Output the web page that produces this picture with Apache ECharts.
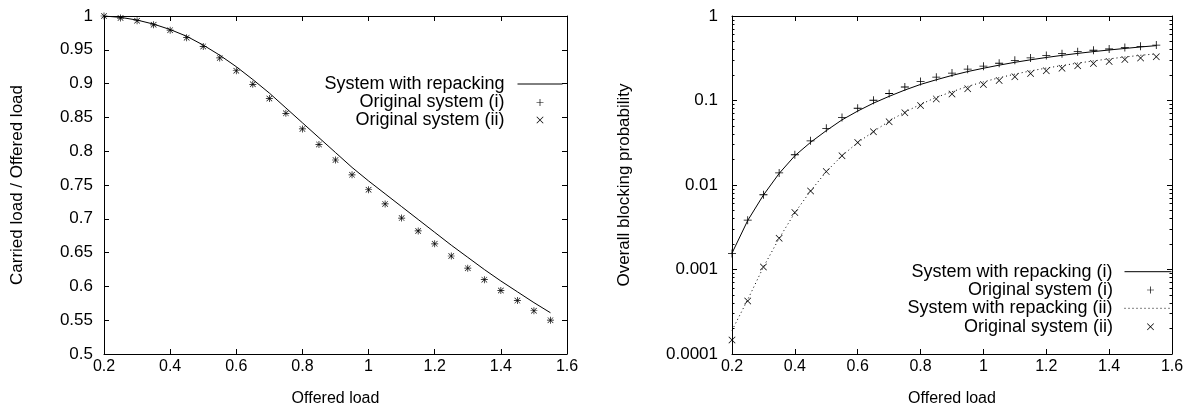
<!DOCTYPE html>
<html>
<head>
<meta charset="utf-8">
<script src="https://cdn.jsdelivr.net/npm/echarts@6/dist/echarts.min.js"></script>
<style>
html,body{margin:0;padding:0;background:#fff;}
#c{width:1191px;height:412px;}
</style>
</head>
<body>
<div id="c"></div>
<script>
// ---- data ----
const offeredLoad = [0.2,0.25,0.3,0.35,0.4,0.45,0.5,0.55,0.6,0.65,0.7,0.75,0.8,0.85,0.9,0.95,1.0,1.05,1.1,1.15,1.2,1.25,1.3,1.35,1.4,1.45,1.5,1.55];

// Left: Carried load / Offered load
const leftRepacking = [1.0,0.998,0.994,0.988,0.980,0.970,0.957,0.942,0.925,0.906,0.886,0.864,0.842,0.820,0.798,0.776,0.756,0.737,0.718,0.699,0.680,0.661,0.643,0.625,0.608,0.592,0.576,0.561];
const leftOriginalI = [1.0,0.997,0.993,0.987,0.979,0.968,0.955,0.938,0.919,0.899,0.878,0.856,0.833,0.810,0.787,0.765,0.743,0.722,0.701,0.682,0.663,0.645,0.627,0.610,0.594,0.579,0.564,0.550];
const leftOriginalII = [1.0,0.997,0.993,0.987,0.979,0.968,0.955,0.938,0.919,0.899,0.878,0.856,0.833,0.810,0.787,0.765,0.743,0.722,0.701,0.682,0.663,0.645,0.627,0.610,0.594,0.579,0.564,0.550];

// Right: Overall blocking probability
const rightRepackingI = [0.00156,0.0038,0.0076,0.0137,0.0222,0.032,0.044,0.059,0.075,0.093,0.112,0.133,0.155,0.176,0.198,0.220,0.241,0.262,0.283,0.303,0.323,0.342,0.361,0.379,0.396,0.413,0.430,0.446];
const rightOriginalI = [0.00155,0.00383,0.00767,0.0139,0.0228,0.0333,0.0469,0.063,0.081,0.1007,0.121,0.1445,0.168,0.189,0.211,0.235,0.255,0.276,0.299,0.319,0.340,0.358,0.378,0.393,0.407,0.425,0.438,0.453];
const rightRepackingII = [0.00019,0.00044,0.00107,0.00234,0.0047,0.0085,0.0144,0.0222,0.0318,0.0428,0.057,0.073,0.090,0.109,0.127,0.147,0.166,0.186,0.205,0.224,0.242,0.259,0.277,0.294,0.311,0.327,0.343,0.356];
const rightOriginalII = [0.000146,0.000423,0.00107,0.00234,0.00472,0.00848,0.0144,0.0222,0.0318,0.0428,0.0561,0.0716,0.0872,0.1045,0.1197,0.138,0.155,0.173,0.191,0.209,0.225,0.241,0.257,0.274,0.289,0.305,0.319,0.330];

// tick values
const logMajorTicks = [0.0001,0.001,0.01,0.1,1];
const logMajorLabels = ['0.0001','0.001','0.01','0.1','1'];
const logMinorTicks = [0.0002,0.0003,0.0004,0.0005,0.0006,0.0007,0.0008,0.0009,
  0.002,0.003,0.004,0.005,0.006,0.007,0.008,0.009,
  0.02,0.03,0.04,0.05,0.06,0.07,0.08,0.09,
  0.2,0.3,0.4,0.5,0.6,0.7,0.8,0.9];

const names = {
  repack: 'System with repacking',
  origI: 'Original system (i)',
  origII: 'Original system (ii)',
  repackI: 'System with repacking (i)',
  repackII: 'System with repacking (ii)'
};

// ---- chart ----
const FONT = '"Liberation Sans", Arial, Helvetica, sans-serif';
const PLUS = 'path://M0,4.5H10V5.5H0Z M4.5,0H5.5V10H4.5Z';
const CROSS = 'path://M0,0.7L0.7,0L10,9.3L9.3,10Z M9.3,0L10,0.7L0.7,10L0,9.3Z';
const pair = (ys) => offeredLoad.map((x, i) => [x, ys[i]]);

const chart = echarts.init(document.getElementById('c'), null, {renderer: 'canvas'});

const xLbl = {color: '#000', fontSize: 16, fontFamily: FONT};
const yLbl = {color: '#000', fontSize: 17, fontFamily: FONT};

function xAxisPair(grid) {
  return [
    {type: 'value', gridIndex: grid, position: 'bottom', min: 0.2, max: 1.6, interval: 0.2,
      name: 'Offered load', nameLocation: 'middle', nameGap: 37,
      nameTextStyle: {color: '#000', fontSize: 16, fontFamily: FONT},
      axisLine: {show: true, onZero: false, lineStyle: {color: '#000', width: 1}},
      axisTick: {show: true, inside: true, length: 5, lineStyle: {color: '#000'}},
      axisLabel: Object.assign({margin: 5, formatter: v => String(Math.round(v * 10) / 10)}, xLbl),
      splitLine: {show: false}},
    {type: 'value', gridIndex: grid, position: 'top', min: 0.2, max: 1.6, interval: 0.2,
      axisLine: {show: true, onZero: false, lineStyle: {color: '#000', width: 1}},
      axisTick: {show: true, inside: true, length: 5, lineStyle: {color: '#000'}},
      axisLabel: {show: false}, splitLine: {show: false}}
  ];
}

const option = {
  animation: false,
  backgroundColor: '#fff',
  grid: [
    {left: 104, top: 16, width: 463, height: 341, containLabel: false},
    {left: 732, top: 16, width: 440, height: 341, containLabel: false}
  ],
  xAxis: [].concat(xAxisPair(0), xAxisPair(1)),
  yAxis: [
    {type: 'value', gridIndex: 0, position: 'left', min: 0.5, max: 1, interval: 0.05,
      name: 'Carried load / Offered load', nameLocation: 'middle', nameGap: 78,
      nameTextStyle: {color: '#000', fontSize: 17, fontFamily: FONT},
      axisLine: {show: true, onZero: false, lineStyle: {color: '#000'}},
      axisTick: {show: true, inside: true, length: 5, lineStyle: {color: '#000'}},
      axisLabel: Object.assign({margin: 11, formatter: v => String(Math.round(v * 100) / 100)}, yLbl),
      splitLine: {show: false}},
    {type: 'value', gridIndex: 0, position: 'right', min: 0.5, max: 1, interval: 0.05,
      axisLine: {show: true, onZero: false, lineStyle: {color: '#000'}},
      axisTick: {show: true, inside: true, length: 5, lineStyle: {color: '#000'}},
      axisLabel: {show: false}, splitLine: {show: false}},
    {type: 'log', logBase: 10, gridIndex: 1, position: 'left', min: 0.0001, max: 1,
      name: 'Overall blocking probability', nameLocation: 'middle', nameGap: 99,
      nameTextStyle: {color: '#000', fontSize: 17, fontFamily: FONT},
      axisLine: {show: true, onZero: false, lineStyle: {color: '#000'}},
      axisTick: {show: true, inside: true, length: 5, customValues: logMajorTicks, lineStyle: {color: '#000'}},
      axisLabel: Object.assign({margin: 14, customValues: logMajorTicks,
        formatter: v => {
          const i = logMajorTicks.findIndex(t => Math.abs(Math.log10(t) - Math.log10(v)) < 1e-6);
          return i >= 0 ? logMajorLabels[i] : String(v);
        }}, yLbl),
      splitLine: {show: false}},
    {type: 'log', logBase: 10, gridIndex: 1, position: 'left', min: 0.0001, max: 1,
      axisLine: {show: false},
      axisTick: {show: true, inside: true, length: 2.5, customValues: logMinorTicks, lineStyle: {color: '#000'}},
      axisLabel: {show: false}, splitLine: {show: false}},
    {type: 'log', logBase: 10, gridIndex: 1, position: 'right', min: 0.0001, max: 1,
      axisLine: {show: true, onZero: false, lineStyle: {color: '#000'}},
      axisTick: {show: true, inside: true, length: 5, customValues: logMajorTicks, lineStyle: {color: '#000'}},
      axisLabel: {show: false}, splitLine: {show: false}},
    {type: 'log', logBase: 10, gridIndex: 1, position: 'right', min: 0.0001, max: 1,
      axisLine: {show: false},
      axisTick: {show: true, inside: true, length: 2.5, customValues: logMinorTicks, lineStyle: {color: '#000'}},
      axisLabel: {show: false}, splitLine: {show: false}}
  ],
  legend: [],
  series: [
    {name: names.repack, type: 'line', xAxisIndex: 0, yAxisIndex: 0, data: pair(leftRepacking),
      showSymbol: false, symbol: 'none', lineStyle: {color: '#000', width: 1}, itemStyle: {color: '#000'}, z: 2},
    {name: names.origI, type: 'scatter', xAxisIndex: 0, yAxisIndex: 0, data: pair(leftOriginalI),
      symbol: PLUS, symbolSize: 7, symbolKeepAspect: true, itemStyle: {color: '#000', opacity: 1}, z: 3},
    {name: names.origII, type: 'scatter', xAxisIndex: 0, yAxisIndex: 0, data: pair(leftOriginalII),
      symbol: CROSS, symbolSize: 6, symbolKeepAspect: true, itemStyle: {color: '#000', opacity: 1}, z: 3},

    {name: names.repackI, type: 'line', xAxisIndex: 2, yAxisIndex: 2, data: pair(rightRepackingI),
      showSymbol: false, symbol: 'none', lineStyle: {color: '#000', width: 1}, itemStyle: {color: '#000'}, z: 2},
    {name: names.origI, type: 'scatter', xAxisIndex: 2, yAxisIndex: 2, data: pair(rightOriginalI),
      symbol: PLUS, symbolSize: 8, symbolKeepAspect: true, itemStyle: {color: '#000', opacity: 1}, z: 3},
    {name: names.repackII, type: 'line', xAxisIndex: 2, yAxisIndex: 2, data: pair(rightRepackingII),
      showSymbol: false, symbol: 'none', lineStyle: {color: '#000', width: 1, type: [1, 3]}, itemStyle: {color: '#000'}, z: 2},
    {name: names.origII, type: 'scatter', xAxisIndex: 2, yAxisIndex: 2, data: pair(rightOriginalII),
      symbol: CROSS, symbolSize: 7, symbolKeepAspect: true, itemStyle: {color: '#000', opacity: 1}, z: 3}
  ]
};

const LEG_TEXT = (pad) => ({color: '#000', fontSize: 18, fontFamily: FONT, lineHeight: 18, padding: [0, pad, 0, 0]});
function legendLine(name, right, top, itemWidth, padRight, dotted) {
  return {
    data: [name], orient: 'vertical', align: 'right', right: right, top: top,
    itemWidth: itemWidth, itemHeight: 14, padding: 0, selectedMode: false,
    itemStyle: {opacity: 0, color: 'rgba(0,0,0,0)', borderWidth: 0},
    lineStyle: dotted ? {width: 1, color: '#000', type: [1, 3]} : {width: 1, color: '#000', type: 'solid'},
    textStyle: LEG_TEXT(padRight)
  };
}
function legendMark(name, icon, right, top, padRight) {
  return {
    data: [{name: name, icon: icon}], orient: 'vertical', align: 'right', right: right, top: top,
    itemWidth: 7, itemHeight: 7, padding: 0, selectedMode: false,
    itemStyle: {color: '#000', opacity: 1},
    textStyle: LEG_TEXT(padRight)
  };
}
option.legend = [
  legendLine(names.repack, 628, 75, 45, 8, false),
  legendMark(names.origI, PLUS, 647.5, 93.5, 27),
  legendMark(names.origII, CROSS, 647.5, 111, 27),
  legendLine(names.repackI, 19, 262.7, 47, 7, false),
  legendMark(names.origI, PLUS, 37, 281, 29),
  legendLine(names.repackII, 19, 299.3, 47, 7, true),
  legendMark(names.origII, CROSS, 37, 317.7, 29)
];

chart.setOption(option);
</script>
</body>
</html>
